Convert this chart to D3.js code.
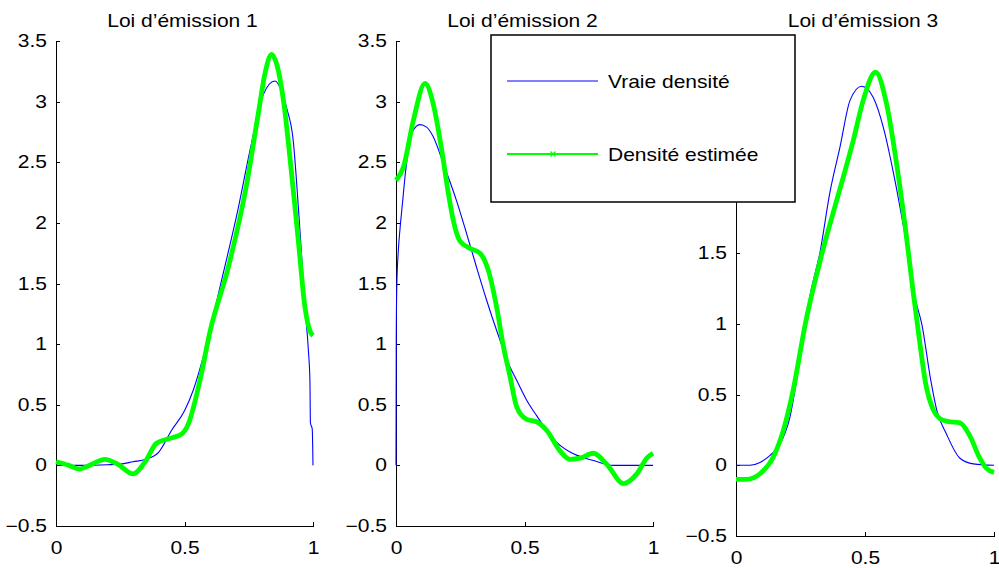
<!DOCTYPE html>
<html>
<head>
<meta charset="utf-8">
<script src="https://cdn.jsdelivr.net/npm/d3@7"></script>
<style>
  body { margin: 0; background: #fff; }
  svg { display: block; }
  text { font-family: "Liberation Sans", Arial, Helvetica, sans-serif; fill: #000; }
</style>
</head>
<body>
<div id="chart"></div>
<script>
// tick labels, titles and legend
const xTicks = [0, 0.5, 1];
const yTicks12 = [-0.5, 0, 0.5, 1, 1.5, 2, 2.5, 3, 3.5];
const yTicks3 = [-0.5, 0, 0.5, 1, 1.5, 2, 2.5];   // upper ticks sit behind the legend
const titles = ["Loi d\u2019émission 1", "Loi d\u2019émission 2", "Loi d\u2019émission 3"];
const legendLabels = ["Vraie densité", "Densité estimée"];

// panel 1
const trueX1 = [0, 0.1, 0.2, 0.25, 0.3, 0.35, 0.4, 0.45, 0.5, 0.534, 0.58, 0.638, 0.71, 0.755, 0.807, 0.852, 0.875, 0.897, 0.923, 0.943, 0.956, 0.969, 0.982, 0.988, 0.99, 0.997, 1.0];
const trueY1 = [0, 0, 0.005, 0.01, 0.03, 0.05, 0.11, 0.29, 0.45, 0.62, 0.95, 1.47, 2.13, 2.6, 3.06, 3.17, 3.1, 2.95, 2.68, 2.13, 1.72, 1.30, 0.95, 0.7, 0.35, 0.3, 0];
const estX1 = [0, 0.05, 0.09, 0.14, 0.19, 0.24, 0.3, 0.35, 0.39, 0.455, 0.49, 0.52, 0.535, 0.56, 0.6, 0.67, 0.742, 0.787, 0.815, 0.839, 0.86, 0.885, 0.917, 0.943, 0.969, 0.99, 1.0];
const estY1 = [0.03, 0.0, -0.03, 0.01, 0.05, 0.01, -0.07, 0.04, 0.18, 0.23, 0.26, 0.37, 0.48, 0.70, 1.11, 1.63, 2.32, 2.90, 3.25, 3.39, 3.3, 3.01, 2.40, 1.85, 1.30, 1.1, 1.07];

// panel 2
const trueX2 = [0, 0.001, 0.003, 0.009, 0.016, 0.026, 0.035, 0.048, 0.061, 0.093, 0.119, 0.145, 0.184, 0.236, 0.275, 0.314, 0.353, 0.392, 0.444, 0.47, 0.508, 0.547, 0.625, 0.677, 0.768, 0.846, 1.0];
const trueY2 = [0, 1.05, 1.47, 1.77, 1.96, 2.18, 2.38, 2.6, 2.74, 2.81, 2.79, 2.71, 2.49, 2.18, 1.91, 1.63, 1.36, 1.11, 0.81, 0.70, 0.54, 0.41, 0.19, 0.11, 0.04, 0.0, 0];
const estX2 = [0, 0.029, 0.067, 0.113, 0.145, 0.178, 0.204, 0.223, 0.249, 0.288, 0.327, 0.359, 0.392, 0.418, 0.444, 0.47, 0.508, 0.547, 0.586, 0.638, 0.677, 0.716, 0.768, 0.82, 0.885, 0.937, 0.976, 1.0];
const estY2 = [2.35, 2.46, 2.84, 3.15, 2.98, 2.6, 2.24, 2.02, 1.85, 1.79, 1.75, 1.61, 1.30, 0.98, 0.73, 0.48, 0.38, 0.36, 0.29, 0.12, 0.05, 0.06, 0.10, 0.01, -0.15, -0.07, 0.06, 0.10];

// panel 3
const trueX3 = [0, 0.054, 0.093, 0.132, 0.171, 0.209, 0.235, 0.255, 0.287, 0.326, 0.364, 0.403, 0.442, 0.487, 0.51, 0.532, 0.571, 0.61, 0.649, 0.697, 0.72, 0.755, 0.778, 0.816, 0.868, 0.92, 1.0];
const trueY3 = [0, 0, 0.02, 0.07, 0.15, 0.34, 0.6, 0.83, 1.2, 1.51, 1.93, 2.25, 2.58, 2.68, 2.66, 2.60, 2.39, 2.07, 1.69, 1.16, 1.0, 0.6, 0.39, 0.22, 0.05, 0.01, 0];
const estX3 = [0, 0.04, 0.093, 0.145, 0.184, 0.218, 0.271, 0.338, 0.41, 0.455, 0.493, 0.541, 0.583, 0.625, 0.655, 0.685, 0.71, 0.735, 0.765, 0.79, 0.82, 0.868, 0.906, 0.945, 0.97, 1.0];
const estY3 = [-0.10, -0.10, -0.06, 0.06, 0.25, 0.5, 1.02, 1.53, 2.0, 2.3, 2.58, 2.78, 2.56, 2.1, 1.7, 1.25, 0.9, 0.58, 0.39, 0.33, 0.31, 0.30, 0.21, 0.05, -0.02, -0.05];

const W = 999, H = 568;
const BLUE = "#0000ff", GREEN = "#00ff00";
const FS = 17.5, SX = 1.2;   // the original figure is stretched horizontally

const panels = [
  {left: 56,  right: 313, top: 41,  bottom: 526, ymax: 3.5, yTicks: yTicks12, tx: trueX1, ty: trueY1, ex: estX1, ey: estY1},
  {left: 396, right: 653, top: 41,  bottom: 526, ymax: 3.5, yTicks: yTicks12, tx: trueX2, ty: trueY2, ex: estX2, ey: estY2},
  {left: 736, right: 994, top: 41,  bottom: 536, ymax: 3,   yTicks: yTicks3,  tx: trueX3, ty: trueY3, ex: estX3, ey: estY3}
];

const fmt = d => d < 0 ? "\u2212" + Math.abs(d) : String(d);

var svg = d3.select("#chart")
  .append("svg")
    .attr("width", W)
    .attr("height", H);

panels.forEach(function(p, i) {
  const x = d3.scaleLinear().domain([0, 1]).range([p.left, p.right]);
  const y = d3.scaleLinear().domain([-0.5, p.ymax]).range([p.bottom, p.top]);
  const g = svg.append("g");

  // axes (MATLAB style, box off, inward ticks)
  const xa = g.append("g")
    .attr("transform", `translate(0, ${p.bottom})`)
    .call(d3.axisBottom(x).tickValues(xTicks).tickFormat(fmt).tickSizeInner(-4).tickSizeOuter(0).tickPadding(16));
  const ya = g.append("g")
    .attr("transform", `translate(${p.left}, 0)`)
    .call(d3.axisLeft(y).tickValues(p.yTicks).tickFormat(fmt).tickSizeInner(-4).tickSizeOuter(0).tickPadding(7.5));

  [xa, ya].forEach(function(a) {
    a.select(".domain").attr("stroke", "#000").attr("stroke-width", 1).attr("shape-rendering", "crispEdges");
    a.selectAll(".tick line").attr("stroke", "#000").attr("shape-rendering", "crispEdges");
    a.selectAll(".tick text")
      .attr("font-size", FS)
      .attr("font-family", "Liberation Sans, Arial, sans-serif")
      .attr("fill", "#000")
      .attr("transform", `scale(${SX},1)`);
  });

  const line = d3.line()
    .x(d => x(d[0]))
    .y(d => y(d[1]))
    .curve(d3.curveMonotoneX);

  g.append("path")
    .datum(d3.zip(p.tx, p.ty))
    .attr("fill", "none")
    .attr("stroke", BLUE)
    .attr("stroke-width", 1.1)
    .attr("d", line);

  g.append("path")
    .datum(d3.zip(p.ex, p.ey))
    .attr("fill", "none")
    .attr("stroke", GREEN)
    .attr("stroke-width", 4.8)
    .attr("stroke-linejoin", "round")
    .attr("d", line);

  g.append("text")
    .attr("transform", `translate(${(p.left + p.right) / 2 - 2}, 27) scale(${SX},1)`)
    .attr("text-anchor", "middle")
    .attr("font-size", FS)
    .text(titles[i]);
});

// legend
const lg = svg.append("g");
lg.append("rect")
  .attr("x", 491).attr("y", 35)
  .attr("width", 304).attr("height", 167)
  .attr("fill", "#fff")
  .attr("stroke", "#000")
  .attr("stroke-width", 1.5);

const legendY = [81, 154];
const legendColor = [BLUE, GREEN];
legendLabels.forEach(function(lab, i) {
  lg.append("line")
    .attr("x1", 507).attr("x2", 598)
    .attr("y1", legendY[i]).attr("y2", legendY[i])
    .attr("stroke", legendColor[i])
    .attr("stroke-width", i === 0 ? 1.2 : 2);
  lg.append("text")
    .attr("transform", `translate(608, ${legendY[i] + 6.5}) scale(${SX},1)`)
    .attr("font-size", FS)
    .text(lab);
});
// x marker on the estimated density legend line
lg.append("path")
  .attr("d", "M550.5,151.5L555.5,156.5M550.5,156.5L555.5,151.5")
  .attr("stroke", GREEN)
  .attr("stroke-width", 1.2);
</script>
</body>
</html>
